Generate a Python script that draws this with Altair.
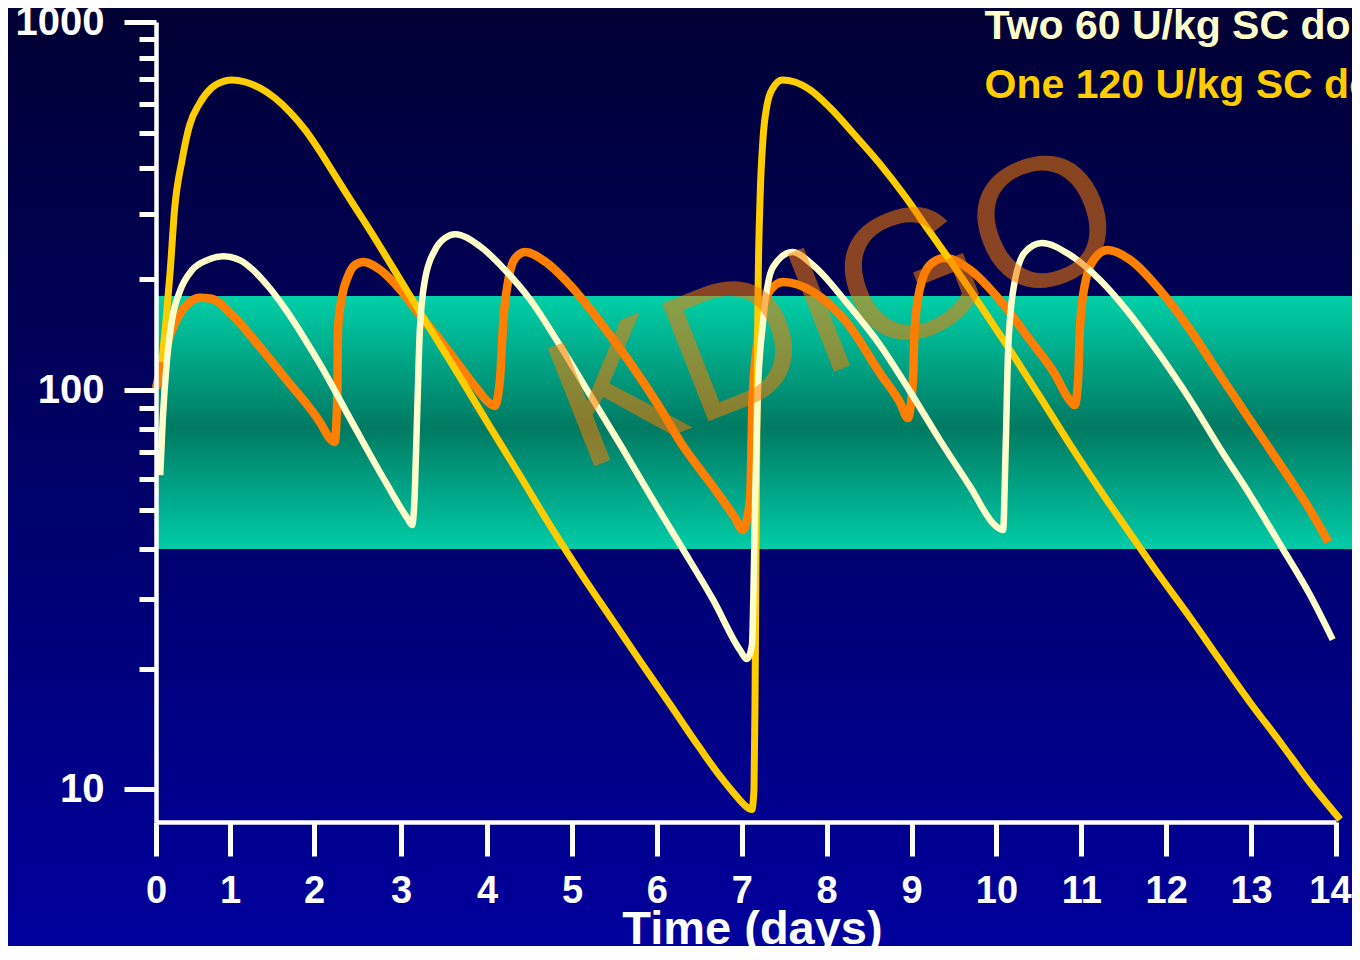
import altair as alt
import pandas as pd

FONT = "Liberation Sans"

# ---------------- data ----------------
x_ticks = list(range(0, 15))
y_ticks = [10, 20, 30, 40, 50, 60, 70, 80, 90,
           100, 200, 300, 400, 500, 600, 700, 800, 900, 1000]

band_days = [0.0, 14.25]
band_low = [40]
band_high = [180]

yellow_days = [0.080, 0.136, 0.193, 0.250, 0.353, 0.455, 0.592, 0.751, 0.923, 1.023,
               1.182, 1.354, 1.533, 1.714, 1.895, 2.074, 2.238, 2.413, 2.645, 2.993,
               3.337, 3.690, 4.033, 4.389, 4.736, 5.094, 5.451, 5.799, 6.156, 6.504,
               6.742, 6.921, 7.040, 7.119,
               7.144, 7.156, 7.168, 7.180, 7.192, 7.215, 7.249, 7.298, 7.368, 7.477,
               7.626, 7.805, 8.043, 8.331, 8.629, 8.927, 9.214, 9.512, 9.810, 10.158,
               10.515, 10.863, 11.220, 11.578, 11.925, 12.283, 12.630, 12.988, 13.345, 13.693,
               14.050]
yellow_vals = [119, 155, 212, 308, 422, 525, 602, 662, 691, 696,
               687, 662, 622, 569, 509, 443, 384, 330, 271, 199,
               147, 108, 81, 61, 46, 35, 27, 21, 16.3, 12.7,
               10.8, 9.7, 9.1, 8.9,
               10.0, 16.7, 39.7, 94.4, 187, 328, 478, 595, 662, 696,
               687, 654, 584, 493, 411, 335, 269, 215, 170, 128.5,
               96, 73.2, 56.2, 43.6, 34.2, 26.9, 21.1, 16.5, 13.1, 10.4,
               8.4]

white_days = [0.057, 0.091, 0.148, 0.216, 0.330, 0.490, 0.706, 0.911, 1.123, 1.273,
              1.474, 1.674, 1.895, 2.074, 2.451, 2.839, 3.072, 3.130, 3.160, 3.190,
              3.219, 3.278, 3.395, 3.513, 3.630, 3.915, 4.212, 4.508, 4.855, 5.213,
              5.571, 5.918, 6.276, 6.663, 6.980, 7.060, 7.119, 7.159, 7.189, 7.249,
              7.368, 7.596, 7.844, 8.242, 8.629, 8.986, 9.334, 9.691, 9.979, 10.078,
              10.108, 10.138, 10.198, 10.336, 10.535, 10.863, 11.220, 11.578, 11.925, 12.283,
              12.630, 12.988, 13.345, 13.693, 13.961]
white_vals = [61.2, 84.1, 120.6, 155, 187, 212, 226, 231, 225, 212,
              189, 164, 137, 117, 82, 58, 47.8, 45.9, 55.2, 90.7,
              145.6, 199, 240, 259, 265, 246, 212, 176, 132.5, 97.2,
              72.8, 54.6, 40.9, 29.8, 22.3, 21.2, 22.9, 54.6, 98.3, 152,
              216, 237, 218, 172, 132.5, 98.9, 74.9, 57.2, 45.9, 44.6,
              70.7, 128.5, 187, 237, 251, 233, 199, 160, 124.5, 94.4,
              71.6, 54.6, 40.9, 30.7, 23.7]

orange_days = [0.000, 0.091, 0.216, 0.330, 0.455, 0.592, 0.751, 1.002, 1.354, 1.674,
               2.074, 2.179, 2.238, 2.267, 2.277, 2.325, 2.383, 2.470, 2.568, 2.761,
               2.993, 3.219, 3.455, 3.690, 3.895, 4.013, 4.092, 4.152, 4.192, 4.251,
               4.331, 4.449, 4.687, 4.975, 5.332, 5.680, 6.037, 6.276, 6.663, 6.921,
               7.010, 7.070, 7.100, 7.129, 7.219, 7.338, 7.487, 7.844, 8.242, 8.629,
               8.867, 8.956, 9.016, 9.036, 9.095, 9.214, 9.393, 9.691, 10.039, 10.396,
               10.694, 10.843, 10.922, 10.962, 10.982, 11.041, 11.161, 11.310, 11.578, 11.925,
               12.283, 12.630, 12.988, 13.345, 13.693, 13.911]
orange_vals = [101, 120.6, 145.6, 162, 173, 178, 177, 162, 131, 106.5,
               82.7, 75.8, 74.1, 94.4, 148, 181, 201.5, 218.6, 222.8, 212,
               187, 160, 136.7, 115.5, 100, 93.3, 91.2, 106.5, 155, 199,
               228, 237, 223, 193, 153, 119, 90.1, 74.1, 57.2, 47.8,
               44.6, 48.6, 54.6, 97.7, 152, 187, 196.6, 184.6, 152, 111,
               92.8, 85.1, 106.5, 145.6, 187, 218.6, 228.4, 212, 175.6, 136.7,
               110, 95.5, 91.7, 106.5, 145.6, 193, 228.4, 240, 225.6, 187,
               145.6, 110, 84.1, 64.9, 50.1, 41.6]

legend_labels = ["Two 60 U/kg SC doses/week", "One 120 U/kg SC dose/week"]
legend_colors = ["#FFFFCC", "#FFCC00"]
legend_days = [9.86, 9.86]
legend_vals = [899, 621]

watermark_text = ["KDIGO"]
watermark_day = [8.11]
watermark_val = [163]

# ---------------- frames ----------------
band_df = pd.DataFrame({"day": [band_days[0]], "day2": [band_days[1]],
                        "lo": band_low, "hi": band_high})
yellow_df = pd.DataFrame({"day": yellow_days, "value": yellow_vals})
white_df = pd.DataFrame({"day": white_days, "value": white_vals})
orange_df = pd.DataFrame({"day": orange_days, "value": orange_vals})
legend_df = pd.DataFrame({"day": legend_days, "value": legend_vals,
                          "label": legend_labels, "color": legend_colors})
wm_df = pd.DataFrame({"day": watermark_day, "value": watermark_val,
                      "label": watermark_text})

# ---------------- scales / axes ----------------
# the slide's axes are hand-drawn, so both scales are piecewise
xs = alt.Scale(domain=[0, 1, 2, 3, 4, 5, 14],
               range=[0, 74, 158, 245, 331, 416, 1180], nice=False, zero=False)
ys = alt.Scale(type="log", domain=[8.28, 10, 100, 1000],
               range=[800, 767.3, 368, 0], nice=False)

major_test = "datum.value == 10 || datum.value == 100 || datum.value == 1000"

x_axis = alt.Axis(values=x_ticks, format="d", title="Time (days)",
                  titleFont=FONT, titleFontSize=47, titleFontWeight="bold",
                  titleColor="white", titleX=596, titleY=121,
                  titleBaseline="alphabetic", titleAlign="center",
                  labelFont=FONT, labelFontSize=38, labelFontWeight="bold",
                  labelColor="white", labelPadding=16, labelFlush=False,
                  labelOffset={"condition": {"test": "datum.value == 14",
                                             "value": -6},
                               "value": 0},
                  labelOverlap=False, tickSize=34, tickWidth=5,
                  tickColor="white", domainColor="white", domainWidth=4.5,
                  grid=False, zindex=1)
y_axis = alt.Axis(values=y_ticks, format="d",
                  labelExpr="(" + major_test + ") ? datum.label : ''",
                  tickSize={"condition": {"test": major_test, "value": 32},
                            "value": 17},
                  title=None, labelFont=FONT, labelFontSize=40,
                  labelFontWeight="bold", labelColor="white",
                  labelPadding=20, labelOverlap=False, labelFlush=False,
                  tickWidth=5, tickColor="white", domainColor="white",
                  domainWidth=4.5, grid=False, zindex=1)

X = lambda f: alt.X(f, scale=xs, axis=x_axis)
Y = lambda f: alt.Y(f, scale=ys, axis=y_axis)

bg_grad = alt.LinearGradient(
    gradient="linear", x1=0, x2=0, y1=0, y2=1,
    stops=[alt.GradientStop(color="#000034", offset=0),
           alt.GradientStop(color="#00009E", offset=1)])
band_grad = alt.LinearGradient(
    gradient="linear", x1=0, x2=0, y1=0, y2=1,
    stops=[alt.GradientStop(color="#00D0A8", offset=0),
           alt.GradientStop(color="#007A62", offset=0.52),
           alt.GradientStop(color="#00CCA8", offset=1)])

bg = alt.Chart(pd.DataFrame({"k": [0]})).mark_rect(fill=bg_grad).encode(
    x=alt.value(-148), x2=alt.value(1200), y=alt.value(-14), y2=alt.value(930))

band = alt.Chart(band_df).mark_rect(fill=band_grad).encode(
    x=X("day:Q"), x2="day2:Q", y=Y("lo:Q"), y2="hi:Q")

def curve(df, color, width):
    return alt.Chart(df).mark_line(color=color, strokeWidth=width,
                                   interpolate="monotone",
                                   strokeJoin="round").encode(
        x=X("day:Q"), y=Y("value:Q"))

orange = curve(orange_df, "#FF7F00", 8.5)
yellow = curve(yellow_df, "#FFCC00", 7)
white = curve(white_df, "#FFFFCC", 6.5)

wm = alt.Chart(wm_df).mark_text(font=FONT, fontSize=184, angle=338.5,
                                color="#F87C00", opacity=0.55,
                                align="center", baseline="middle").encode(
    x=X("day:Q"), y=Y("value:Q"), text="label:N")

legend = alt.Chart(legend_df).mark_text(font=FONT, fontSize=41,
                                        fontWeight="bold", align="left",
                                        baseline="alphabetic").encode(
    x=X("day:Q"), y=Y("value:Q"), text="label:N",
    color=alt.Color("color:N", scale=None))

chart = alt.layer(bg, band, orange, yellow, white, wm, legend).properties(
    width=1180, height=800,
    padding={"left": 148, "top": 14, "right": 16, "bottom": 124},
    autosize=alt.AutoSizeParams(type="none"),
    background="#00005C",
).configure_view(stroke=None)

chart.save("out.html", embed_options={"renderer": "svg", "actions": False})
